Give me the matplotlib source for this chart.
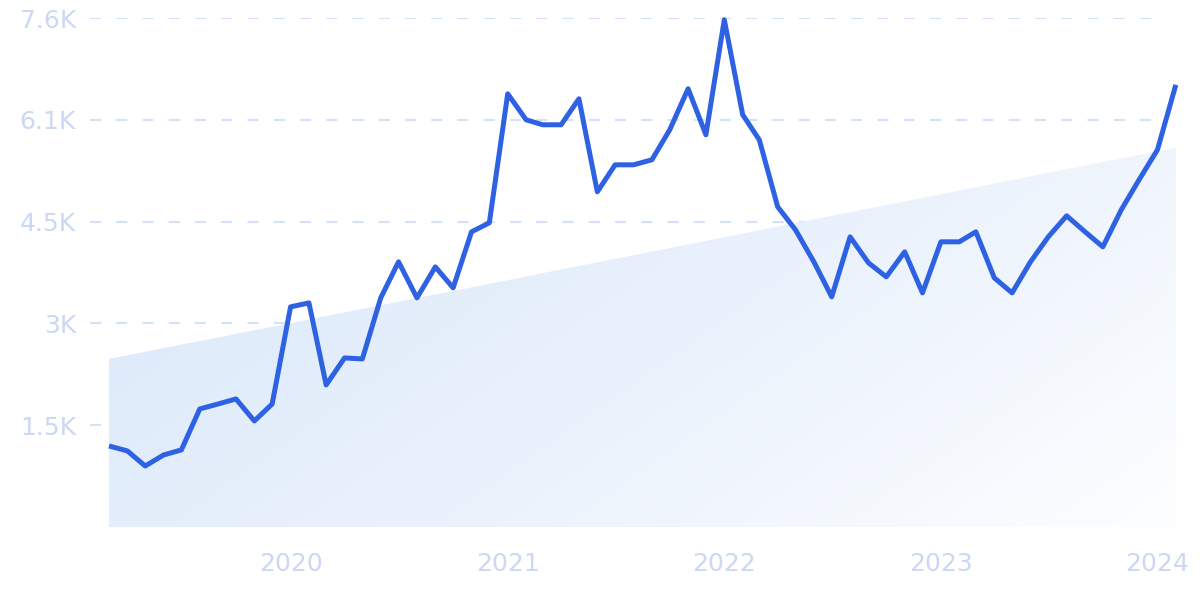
import numpy as np
import pandas as pd
import matplotlib
matplotlib.use("Agg")
import matplotlib.pyplot as plt
import matplotlib.dates as mdates
from matplotlib.colors import LinearSegmentedColormap

# monthly values, Mar 2019 .. Feb 2024
months = pd.date_range("2019-03-01", "2024-02-01", freq="MS")
values = [1206, 1132, 908, 1072, 1147, 1757, 1831, 1906, 1578, 1831,
          3276, 3335, 2114, 2516, 2501, 3410, 3946, 3410, 3871, 3559,
          4393, 4527, 6447, 6060, 5986, 5986, 6373, 4988, 5390, 5390,
          5465, 5911, 6522, 5837, 7550, 6135, 5762, 4765, 4422, 3946,
          3425, 4318, 3931, 3723, 4095, 3484, 4244, 4244, 4393, 3708,
          3484, 3946, 4318, 4631, 4393, 4169, 4720, 5167, 5614, 6581]

# trend band (start / end value)
trend_start = 2501
trend_end = 5643

y_ticks = [1515, 3030, 4545, 6060, 7575]
y_labels = ["1.5K", "3K", "4.5K", "6.1K", "7.6K"]
x_ticks = ["2020-01-01", "2021-01-01", "2022-01-01", "2023-01-01", "2024-01-01"]
x_labels = ["2020", "2021", "2022", "2023", "2024"]

line_color = "#2f62e3"
grid_color = "#d3e2fa"
label_color = "#ccd7f3"

fig = plt.figure(figsize=(12, 5.99), dpi=100)
ax = fig.add_axes([90 / 1200, (599 - 527) / 599, 1090 / 1200, 509 / 599])

x = mdates.date2num(months)
left = mdates.date2num(pd.Timestamp("2019-01-28"))
right = mdates.date2num(pd.Timestamp("2024-02-08"))
ax.set_xlim(left, right)
ax.set_ylim(0, 7575)

# gradient trend area
trend = np.linspace(trend_start, trend_end, len(x))
poly = ax.fill_between(x, 0, trend, color="none", lw=0)
cmap = LinearSegmentedColormap.from_list("fade", ["#d9e8fa", "#e9f1fc", "#fdfeff"])
gx, gy = np.meshgrid(np.linspace(0, 1, 300), np.linspace(1, 0, 150))
grad = (gx * 0.8 + (1 - gy) * 0.4)
grad = grad / grad.max()
img = ax.imshow(grad, cmap=cmap, aspect="auto", origin="upper",
                extent=[x[0], x[-1], 0, trend_end], zorder=1)
img.set_clip_path(poly.get_paths()[0], transform=ax.transData)

# dashed gridlines
for t in y_ticks:
    ax.axhline(t, xmin=0, xmax=(1167 - 90) / 1090, color=grid_color, lw=1.5,
               linestyle=(0, (5.3, 7.3)), zorder=0.5)

ax.plot(x, values, color=line_color, lw=3.6, solid_joinstyle="round",
        solid_capstyle="butt", zorder=3, clip_on=False)

ax.set_yticks(y_ticks)
ax.set_yticklabels(y_labels)
ax.set_xticks(mdates.date2num(pd.to_datetime(x_ticks)))
ax.set_xticklabels(x_labels)
ax.tick_params(axis="y", length=0, pad=10, labelsize=18, labelcolor=label_color)
ax.tick_params(axis="x", length=0, pad=18, labelsize=18, labelcolor=label_color)
for s in ax.spines.values():
    s.set_visible(False)

fig.savefig("out.png", dpi=100)
